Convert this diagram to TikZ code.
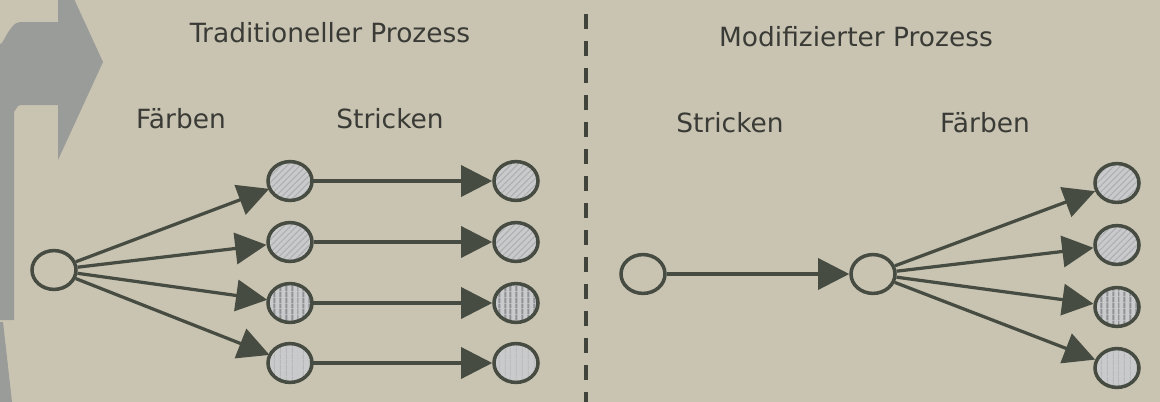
\documentclass[tikz,border=0pt]{standalone}
\usepackage{fontspec}
\setmainfont{DejaVu Sans}
\usetikzlibrary{shapes.geometric,arrows.meta,patterns.meta}
\definecolor{bg}{HTML}{C9C4B1}
\definecolor{big}{HTML}{9A9C99}
\definecolor{ink}{HTML}{474C42}
\definecolor{txt}{HTML}{3A3B36}
\definecolor{cfill}{HTML}{C9CACC}
\definecolor{hatch}{HTML}{AEB0B2}
\definecolor{stripe}{HTML}{909296}
\tikzset{
  lbl/.style={anchor=base,text=txt,font=\fontsize{18.8}{22}\selectfont,inner sep=0pt},
  circ/.style={ellipse,draw=ink,line width=2.5pt,inner sep=0pt,minimum width=1.1cm,minimum height=0.97cm},
  plain/.style={circ,fill=bg},
  diag/.style={circ,preaction={fill=cfill},pattern={Lines[angle=45,distance=3.2pt,line width=0.8pt]},pattern color=hatch},
  vert/.style={circ,preaction={fill=cfill},pattern={Lines[angle=90,distance=4pt,line width=1.5pt]},pattern color=stripe},
  faint/.style={circ,preaction={fill=cfill},pattern={Lines[angle=90,distance=4pt,line width=0.6pt]},pattern color=hatch!70!cfill},
  conn/.style={draw=ink,line width=2.3pt,-{Triangle[length=0.78cm,width=0.78cm]}},
  sep/.style={draw=ink!90!black,line width=2.4pt,dash pattern=on 0.375cm off 0.3cm}
}
\begin{document}
\begin{tikzpicture}[x=0.025cm,y=-0.025cm]
\fill[bg] (0,0) rectangle (1160,402);
\useasboundingbox (0,0) rectangle (1160,402);
% big gray arrow
\fill[big] (0,320) -- (0,42) to[out=-90,in=180] (20,22) -- (58,22) -- (58,-36) -- (103,62) -- (58,160) -- (58,105) -- (20,105) to[out=180,in=-90] (14,111) -- (14,320) -- cycle;
\fill[big] (0,322) -- (3,322) -- (12,402) -- (0,402) -- cycle;
% separator
\coordinate (s1) at (586,14);
\coordinate (s2) at (586,402);
\draw[sep] (s1) -- (s2);
% labels
\node[lbl] (t1) at (330,42) {Traditioneller Prozess};
\node[lbl] (t2) at (856,46) {Modifizierter Prozess};
\node[lbl] (f1) at (181,128) {Färben};
\node[lbl] (k1) at (390,128) {Stricken};
\node[lbl] (k2) at (730,132) {Stricken};
\node[lbl] (f2) at (985,132) {Färben};
% traditional
\node[plain] (a0) at (54,270) {};
\node[diag] (a1) at (290,181) {};
\node[diag] (a2) at (290,242) {};
\node[vert] (a3) at (290,303) {};
\node[faint] (a4) at (290,363) {};
\node[diag] (b1) at (516,181) {};
\node[diag] (b2) at (516,242) {};
\node[vert] (b3) at (516,303) {};
\node[faint] (b4) at (516,363) {};
\foreach \i in {1,2,3,4}{
  \draw[conn] (a0) -- (a\i);
  \draw[conn] (a\i) -- (b\i);
}
% modified
\node[plain] (m0) at (643,274) {};
\node[plain] (m1) at (873,274) {};
\node[diag] (c1) at (1117,183) {};
\node[diag] (c2) at (1117,245) {};
\node[vert] (c3) at (1117,307) {};
\node[faint] (c4) at (1117,368) {};
\draw[conn] (m0) -- (m1);
\foreach \i in {1,2,3,4}{
  \draw[conn] (m1) -- (c\i);
}
\end{tikzpicture}
\end{document}
